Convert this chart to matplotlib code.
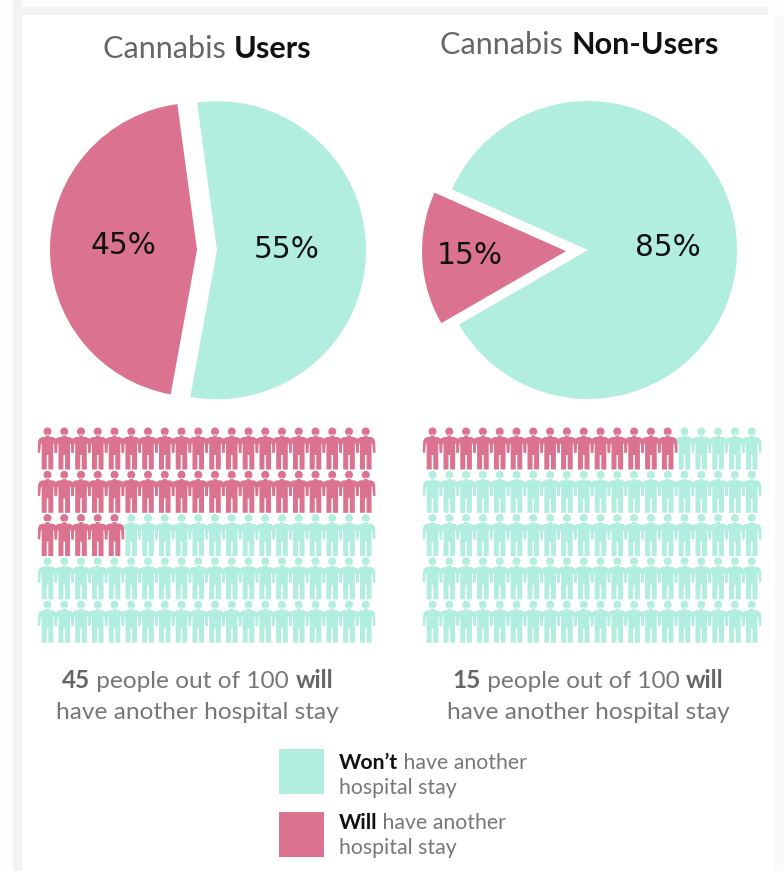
import matplotlib
matplotlib.use("Agg")
import matplotlib.pyplot as plt
from matplotlib.patches import Rectangle, PathPatch
from matplotlib.path import Path
from matplotlib.transforms import Affine2D

W, H = 784, 871

# Pie shares, first teal (no further stay), then pink (further stay)
users_shares = [55, 45]
non_users_shares = [85, 15]
percent_labels_users = ["55%", "45%"]
percent_labels_non = ["85%", "15%"]

# Pictogram: 100 figures per group; pink counts follow the stated shares
people_total = 100
people_per_row = 20
users_pink = users_shares[1]
non_users_pink = non_users_shares[1]

TEAL = "#B2EEE0"
PINK = "#DB7290"
GRAY = "#777777"
TITLE_GRAY = "#666666"
DARK = "#111111"
FONT = "Lato"

fig = plt.figure(figsize=(W / 100, H / 100), dpi=100, facecolor="#FDFDFD")
ax = fig.add_axes([0, 0, 1, 1])


def Y(p):
    """Convert a downward pixel row into the upward data axis."""
    return H - p


# Soft card frame behind the content
ax.add_patch(Rectangle((13, 0), 9, H, fc="#F3F3F3", ec="none", zorder=0))
ax.add_patch(Rectangle((13, Y(15)), 755, 8, fc="#F3F3F3", ec="none", zorder=0))
ax.add_patch(Rectangle((22, 0), 753, Y(15), fc="white", ec="none", zorder=0.5))
ax.add_patch(Rectangle((775, 0), 9, Y(15), fc="#FAFAFA", ec="none", zorder=0))


def draw_pie(shares, start, center, explode, radii, labels, label_xy):
    # explode is an absolute offset in data units on this pixel-scaled axes
    wedges, _ = ax.pie(shares, colors=[TEAL, PINK], startangle=start,
                       center=(center[0], Y(center[1])), radius=149,
                       explode=explode, frame=True,
                       wedgeprops=dict(linewidth=0))
    for wedge, r in zip(wedges, radii):
        wedge.set_radius(r)
    for text, (x, y) in zip(labels, label_xy):
        ax.text(x, Y(y), text, ha="center", va="center", fontsize=21.3,
                family="DejaVu Sans", color="#111111", zorder=5)


draw_pie(users_shares, -100.3, (207, 250), [10, 10], [149, 147],
         percent_labels_users, [(287, 249), (123, 246)])
draw_pie(non_users_shares, 210, (588, 250), [0, 22], [149, 144],
         percent_labels_non, [(668, 248), (470, 256)])


def person_path():
    """Standing figure, origin at the centre of the head, rows grow downward."""
    body = [(-1.8, 3), (1.8, 3), (1.8, 5.4), (5.5, 5.6), (8.2, 7), (9.4, 10),
            (9.8, 21), (7.4, 21.5), (6.6, 12), (5.8, 12),
            (5.8, 38), (0.8, 38), (0.8, 23.5), (-0.8, 23.5), (-0.8, 38), (-5.8, 38),
            (-5.8, 12), (-6.6, 12), (-7.4, 21.5), (-9.8, 21), (-9.4, 10), (-8.2, 7),
            (-5.5, 5.6), (-1.8, 5.4), (-1.8, 3)]
    codes = [Path.MOVETO] + [Path.LINETO] * (len(body) - 2) + [Path.CLOSEPOLY]
    verts = [(x, -y) for x, y in body]
    head = Path.unit_circle().transformed(Affine2D().scale(4.0))
    return Path.make_compound_path(Path(verts, codes), head)


PERSON = person_path()


def draw_people(pink_count, x0, pitch_x):
    pitch_y = 43.3
    y0 = 431.5
    # Teal first so pink arms sit on top along the boundary
    order = sorted(range(people_total), key=lambda i: i < pink_count)
    for i in order:
        col = i % people_per_row
        row = i // people_per_row
        x = x0 + col * pitch_x
        y = y0 + row * pitch_y
        color = PINK if i < pink_count else TEAL
        tr = Affine2D().translate(x, Y(y)) + ax.transData
        ax.add_patch(PathPatch(PERSON, fc=color, ec="none", transform=tr, zorder=3))


draw_people(users_pink, 47.5, 16.75)
draw_people(non_users_pink, 432.5, 16.8)

fig.canvas.draw()
renderer = fig.canvas.get_renderer()


def spans(x, y, parts, size, center=False):
    """Lay out differently styled runs on one baseline."""
    items = []
    cursor = 0
    for text, color, weight in parts:
        t = ax.text(0, Y(y), text.replace(" ", "\u00a0"), fontsize=size, color=color,
                    fontweight=weight, family=FONT, ha="left", va="baseline", zorder=6)
        width = t.get_window_extent(renderer).width
        items.append((t, cursor))
        cursor += width
    start = x - cursor / 2 if center else x
    for t, off in items:
        t.set_x(start + off)


spans(207.5, 58, [("Cannabis ", TITLE_GRAY, "normal"), ("Users", DARK, "bold")], 22.1, center=True)
spans(579.5, 54, [("Cannabis ", TITLE_GRAY, "normal"), ("Non-Users", DARK, "bold")], 22.1, center=True)

spans(197.5, 688, [("45", "#666666", "bold"), (" people out of 100 ", GRAY, "normal"),
                   ("will", "#666666", "bold")], 17.6, center=True)
spans(197.5, 719, [("have another hospital stay", GRAY, "normal")], 17.6, center=True)
spans(588, 688, [("15", "#666666", "bold"), (" people out of 100 ", GRAY, "normal"),
                 ("will", "#666666", "bold")], 17.6, center=True)
spans(588, 719, [("have another hospital stay", GRAY, "normal")], 17.6, center=True)

# Legend swatches and their captions
ax.add_patch(Rectangle((279, Y(794)), 45, 45, fc=TEAL, ec="none", zorder=3))
ax.add_patch(Rectangle((279, Y(857)), 45, 45, fc=PINK, ec="none", zorder=3))
spans(339, 769, [("Won\u2019t", DARK, "bold"), (" have another", GRAY, "normal")], 15.3)
spans(339, 794, [("hospital stay", GRAY, "normal")], 15.3)
spans(339, 829, [("Will", DARK, "bold"), (" have another", GRAY, "normal")], 15.3)
spans(339, 854, [("hospital stay", GRAY, "normal")], 15.3)

ax.set_xlim(0, W)
ax.set_ylim(0, H)
ax.set_aspect("auto")
ax.axis("off")

fig.savefig("out.png", dpi=100, facecolor=fig.get_facecolor())
